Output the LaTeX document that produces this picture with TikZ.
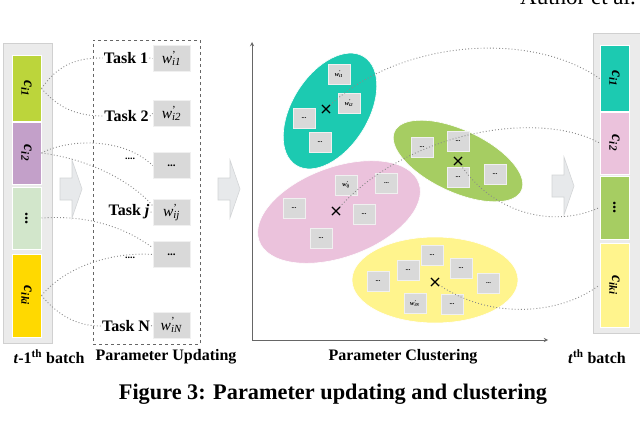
\documentclass[tikz,border=0pt]{standalone}
\usepackage{fontspec}
\setmainfont{Liberation Serif}
\usetikzlibrary{shapes.geometric,shapes.misc}
\definecolor{panelfill}{HTML}{EBEBEB}
\definecolor{paneledge}{HTML}{D0D0D0}
\definecolor{lgreen}{HTML}{BCD53B}
\definecolor{lpurple}{HTML}{C3A0C9}
\definecolor{lpale}{HTML}{D2E6CB}
\definecolor{lyellow}{HTML}{FFD900}
\definecolor{cteal}{HTML}{1CCAB1}
\definecolor{cpink}{HTML}{EBC2DC}
\definecolor{cgreen}{HTML}{A6CD62}
\definecolor{cyellow}{HTML}{FFF48D}
\definecolor{boxgray}{HTML}{D9D9D9}
\definecolor{boxedge}{HTML}{F0F0F0}
\definecolor{dotgray}{HTML}{8A8A8A}
\definecolor{axisgray}{HTML}{666666}
\definecolor{arrfill}{HTML}{E7E9EB}
\definecolor{arredge}{HTML}{D3D5D7}
\newcommand{\wl}[1]{\textit{w}\rlap{\textsuperscript{\textup{'}}}\textsubscript{\textit{#1}}}
\begin{document}
\begin{tikzpicture}[x=1pt,y=-1pt,
  panel/.style={draw=paneledge, fill=panelfill, line width=0.8pt, inner sep=0pt},
  cell/.style={draw=white, line width=1pt, minimum width=29pt, inner sep=0pt},
  celltext/.style={font=\fontsize{16}{16}\selectfont\bfseries, rotate=-90},
  pbox/.style={fill=boxgray, draw=boxedge, line width=0.8pt, minimum width=37pt, minimum height=26pt, inner sep=0pt, font=\fontsize{15.5}{15.5}\selectfont},
  sbox/.style={fill=boxgray, draw=boxedge, line width=0.8pt, minimum width=22pt, minimum height=20pt, inner sep=0pt, font=\fontsize{6.5}{6.5}\selectfont\bfseries},
  tasktext/.style={font=\fontsize{16}{16}\selectfont\bfseries, inner sep=1pt},
  cluster/.style={ellipse, draw=white, line width=0.6pt, inner sep=0pt},
  xmark/.style={cross out, draw=black, line width=1.1pt, minimum size=7pt, inner sep=0pt},
  conn/.style={draw=dotgray, line width=0.9pt, dash pattern=on 0.9pt off 2.2pt},
  blockarrow/.style={fill=arrfill, draw=arredge, line width=0.6pt},
  axis/.style={draw=axisgray, line width=0.9pt, -stealth},
  label/.style={font=\fontsize{16}{16}\selectfont\bfseries, inner sep=0pt}]
\useasboundingbox (0,0) rectangle (640,436);
\fill[white] (0,0) rectangle (640,436);

% header text (cut off)
\node[anchor=base west, font=\fontsize{23}{23}\selectfont, inner sep=0pt] (author) at (520,5) {Author et al.};

% left panel
\node[panel, minimum width=49pt, minimum height=300pt] (panelL) at (27.5,193) {};
\node[cell, fill=lgreen, minimum height=65pt] (c1L) at (26.5,88.5) {};
\node[cell, fill=lpurple, minimum height=62pt] (c2L) at (26.5,153) {};
\node[cell, fill=lpale, minimum height=62pt] (c3L) at (26.5,218) {};
\node[cell, fill=lyellow, minimum height=83pt] (c4L) at (26.5,295.5) {};
\node[celltext] at (c1L) {\textit{c}\textsubscript{\textit{i1}}};
\node[celltext] at (c2L) {\textit{c}\textsubscript{\textit{i2}}};
\node[celltext] at (c3L) {...};
\node[celltext] at (c4L) {\textit{c}\textsubscript{\textit{iki}}};

% right panel
\node[panel, minimum width=55pt, minimum height=300pt] (panelR) at (620.5,183) {};
\node[cell, fill=cteal, minimum height=65pt] (c1R) at (614.5,78.5) {};
\node[cell, fill=cpink, minimum height=62pt] (c2R) at (614.5,143) {};
\node[cell, fill=cgreen, minimum height=63pt] (c3R) at (614.5,207.5) {};
\node[cell, fill=cyellow, minimum height=84pt] (c4R) at (614.5,285) {};
\node[celltext] at (c1R) {\textit{c}\textsubscript{\textit{i1}}};
\node[celltext] at (c2R) {\textit{c}\textsubscript{\textit{i2}}};
\node[celltext] at (c3R) {...};
\node[celltext] at (c4R) {\textit{c}\textsubscript{\textit{iki}}};

% block arrows
\draw[blockarrow] (60,178) -- (72,178) -- (72,160) -- (82,189) -- (72,218) -- (72,200) -- (60,200) -- cycle;
\draw[blockarrow] (218,178) -- (230,178) -- (230,160) -- (240,189) -- (230,218) -- (230,200) -- (218,200) -- cycle;
\draw[blockarrow] (552,175) -- (564,175) -- (564,157) -- (574,186) -- (564,215) -- (564,197) -- (552,197) -- cycle;

% parameter updating panel
\node[draw=axisgray, dashed, line width=0.8pt, minimum width=107pt, minimum height=304pt, inner sep=0pt] (upd) at (146.5,192) {};
\node[tasktext] (t1) at (126,58) {Task 1};
\node[tasktext] (t2) at (126.5,116) {Task 2};
\node[tasktext, font=\fontsize{10}{10}\selectfont\bfseries] (d1) at (130,159) {....};
\node[tasktext] (tj) at (129,212) {Task \textit{j}};
\node[tasktext, font=\fontsize{10}{10}\selectfont\bfseries] (d2) at (130,258) {....};
\node[tasktext] (tN) at (126,326) {Task N};
\node[pbox] (b1) at (171.5,58.5) {\wl{i1}};
\node[pbox] (b2) at (171.5,113.5) {\wl{i2}};
\node[pbox, font=\fontsize{11}{11}\selectfont\bfseries] (b3) at (171.5,165.5) {...};
\node[pbox] (b4) at (171.5,212.5) {\wl{ij}};
\node[pbox, font=\fontsize{11}{11}\selectfont\bfseries] (b5) at (171.5,254.5) {...};
\node[pbox] (b6) at (171.5,325) {\wl{iN}};

% axes
\coordinate (origin) at (252,340);
\coordinate (ytop) at (252,42);
\coordinate (xend) at (548,340);
\draw[axis] (origin) -- (ytop);
\draw[axis] (origin) -- (xend);

% clusters
\node[cluster, fill=cteal, minimum width=128pt, minimum height=76pt, rotate=58] (clA) at (330,111) {};
\node[cluster, fill=cpink, minimum width=170pt, minimum height=90pt, rotate=20] (clB) at (339,212) {};
\node[cluster, fill=cgreen, minimum width=140pt, minimum height=62pt, rotate=-25] (clC) at (458,161) {};
\node[cluster, fill=cyellow, minimum width=166pt, minimum height=86pt] (clD) at (435,280) {};

% cluster members
\node[sbox] (a1) at (339,74) {\wl{i1}};
\node[sbox] (a2) at (349,103) {\wl{i2}};
\node[sbox] (a3) at (304,118) {...};
\node[sbox] (a4) at (320,142) {...};
\node[sbox] (p1) at (346,185) {\wl{ij}};
\node[sbox] (p2) at (386.5,183) {...};
\node[sbox] (p3) at (294,208) {...};
\node[sbox] (p4) at (364,214) {...};
\node[sbox] (p5) at (321,238) {...};
\node[sbox] (g1) at (422,147) {...};
\node[sbox] (g2) at (458,141) {...};
\node[sbox] (g3) at (458,177) {...};
\node[sbox] (g4) at (495,174) {...};
\node[sbox] (y1) at (378,281) {...};
\node[sbox] (y2) at (408,270.5) {...};
\node[sbox] (y3) at (432,255.5) {...};
\node[sbox] (y4) at (461,268) {...};
\node[sbox] (y5) at (488.5,283) {...};
\node[sbox] (y6) at (415,303.5) {\wl{iN}};
\node[sbox] (y7) at (452,304) {...};

% centroids
\node[xmark] (X1) at (326,109) {};
\node[xmark] (X2) at (336,211) {};
\node[xmark] (X3) at (458,161) {};
\node[xmark] (X4) at (435,282) {};

% connectors left
\draw[conn] (c1L.east) .. controls (60,62) and (80,58) .. (t1.west);
\draw[conn] (t1.east) -- (b1.west);
\draw[conn] (c1L.east) .. controls (60,110) and (80,116) .. (t2.west);
\draw[conn] (t2.east) -- (b2.west);
\draw[conn] (c2L.east) .. controls (70,138) and (125,138) .. (b3.west);
\draw[conn] (c2L.east) .. controls (95,160) and (135,185) .. (b4.160);
\draw[conn] (tj.east) -- (b4.west);
\draw[conn] (c3L.east) .. controls (100,214) and (135,235) .. (b5.160);
\draw[conn] (c4L.east) .. controls (70,262) and (120,252) .. (b5.west);
\draw[conn] (c4L.east) .. controls (60,318) and (80,326) .. (tN.west);
\draw[conn] (tN.east) -- (b6.west);

% connectors right
\draw[conn] (X1) .. controls (400,40) and (530,30) .. (c1R.west);
\draw[conn] (X2) .. controls (410,130) and (540,110) .. (c2R.west);
\draw[conn] (X3) .. controls (495,215) and (555,228) .. (c3R.west);
\draw[conn] (X4) .. controls (490,320) and (560,315) .. (c4R.west);

% labels
\node[label] (lab1) at (49,357) {\textit{t}-1\textsuperscript{th} batch};
\node[label] (lab2) at (166,357) {Parameter Updating};
\node[label] (lab3) at (403,357) {Parameter Clustering};
\node[label] (lab4) at (597,357) {\textit{t}\textsuperscript{th} batch};
\node[font=\fontsize{22.3}{22.3}\selectfont\bfseries, inner sep=0pt] (caption) at (333,394) {Figure 3: Parameter updating and clustering};
\end{tikzpicture}
\end{document}
